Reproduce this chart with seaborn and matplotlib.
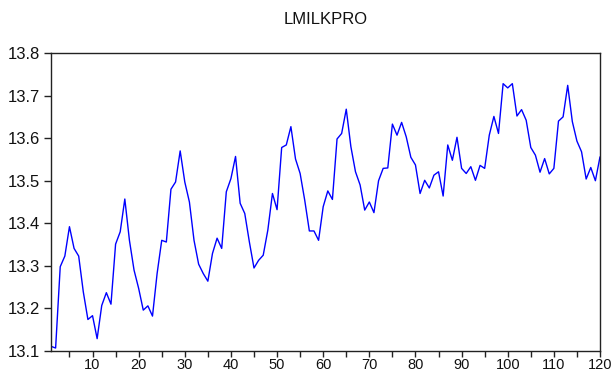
import numpy as np
import pandas as pd
import matplotlib
matplotlib.use("Agg")
import matplotlib.pyplot as plt
from matplotlib.ticker import MultipleLocator
import seaborn as sns

# Log of monthly milk production, observations 1..120
obs = list(range(1, 121))
lmilkpro = [
    13.111, 13.107, 13.298, 13.323, 13.392, 13.341, 13.323, 13.239, 13.174, 13.183,
    13.129, 13.207, 13.237, 13.210, 13.351, 13.380, 13.457, 13.360, 13.290, 13.247,
    13.196, 13.206, 13.182, 13.282, 13.360, 13.356, 13.480, 13.497, 13.570, 13.497,
    13.450, 13.360, 13.304, 13.282, 13.264, 13.329, 13.365, 13.341, 13.474, 13.505,
    13.557, 13.447, 13.423, 13.356, 13.295, 13.313, 13.325, 13.384, 13.470, 13.432,
    13.578, 13.584, 13.627, 13.551, 13.517, 13.454, 13.382, 13.382, 13.360, 13.439,
    13.476, 13.456, 13.598, 13.611, 13.668, 13.580, 13.521, 13.490, 13.431, 13.450,
    13.425, 13.500, 13.529, 13.530, 13.633, 13.607, 13.637, 13.603, 13.555, 13.537,
    13.470, 13.501, 13.483, 13.513, 13.521, 13.464, 13.584, 13.548, 13.602, 13.529,
    13.517, 13.533, 13.501, 13.536, 13.529, 13.607, 13.651, 13.611, 13.728, 13.718,
    13.728, 13.652, 13.667, 13.642, 13.578, 13.560, 13.520, 13.552, 13.516, 13.529,
    13.640, 13.650, 13.724, 13.639, 13.593, 13.568, 13.504, 13.531, 13.500, 13.556,
]
y_ticks = [13.1, 13.2, 13.3, 13.4, 13.5, 13.6, 13.7, 13.8]
x_ticks = [10, 20, 30, 40, 50, 60, 70, 80, 90, 100, 110, 120]

df = pd.DataFrame({"obs": obs, "LMILKPRO": lmilkpro})

sns.set_style("ticks")
plt.rcParams["font.family"] = ["Liberation Sans", "DejaVu Sans"]

fig = plt.figure(figsize=(6.13, 3.71), dpi=100)
ax = fig.add_axes([51 / 613, 1 - 351 / 371, (600 - 51) / 613, (351 - 53) / 371])

sns.lineplot(data=df, x="obs", y="LMILKPRO", color="#0000FF", linewidth=1.0, ax=ax)

ax.set_xlim(1, 120)
ax.set_ylim(13.1, 13.8)
ax.set_xticks(x_ticks)
ax.xaxis.set_minor_locator(MultipleLocator(5))
ax.set_yticks(y_ticks)
ax.set_yticklabels([f"{v:.1f}" for v in y_ticks])
ax.set_xlabel("")
ax.set_ylabel("")

for side in ["left", "right", "top", "bottom"]:
    ax.spines[side].set_visible(True)
    ax.spines[side].set_color("#222222")
    ax.spines[side].set_linewidth(1.0)

ax.tick_params(axis="y", which="major", direction="out", length=5, width=1,
               color="#222222", labelsize=12, pad=3, labelcolor="#111111")
ax.tick_params(axis="x", which="both", direction="out", length=4, width=1,
               color="#222222", labelsize=10.5, pad=1, labelcolor="#111111")

fig.text((51 + 600) / 2 / 613, 1 - 20 / 371, "LMILKPRO", ha="center", va="center",
         fontsize=12, color="#111111")

fig.savefig("out.png", dpi=100)
